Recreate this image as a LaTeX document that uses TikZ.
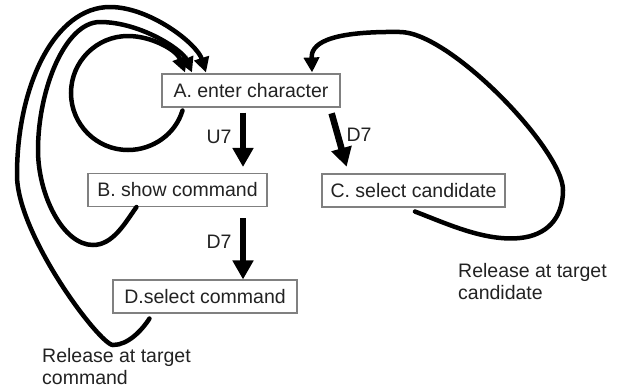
\documentclass[tikz,border=0pt]{standalone}
\usepackage{fontspec}
\setmainfont{Liberation Sans}
\usetikzlibrary{arrows.meta}
\definecolor{boxgray}{HTML}{808080}
\definecolor{textcol}{HTML}{222222}
\begin{document}
\begin{tikzpicture}[x=1pt,y=-1pt,
  box/.style={draw=boxgray, line width=1.1pt, fill=white, inner sep=0pt,
    text=textcol, font=\fontsize{19.5}{22.5}\selectfont, minimum height=33pt},
  lbl/.style={inner sep=0pt, text=textcol, font=\fontsize{19.5}{22.5}\selectfont, align=left},
  bigarrow/.style={draw=black, line width=6.5pt, -{Triangle[width=20pt,length=19pt]}},
  backline/.style={draw=black, line width=4.5pt, line cap=round, -{Triangle[width=15pt,length=15pt]}}]
\useasboundingbox (0,0) rectangle (620,389);

\node[box, minimum width=178pt] (A) at (251,90.5) {A. enter character};
\node[box, minimum width=179pt] (B) at (177.5,190) {B. show command};
\node[box, minimum width=183pt] (C) at (413.5,190.5) {C. select candidate};
\node[box, minimum width=184pt] (D) at (205,296.5) {D.select command};

% straight transitions
\draw[bigarrow, shorten <=5pt, shorten >=6pt] ([xshift=-8pt]A.south) -- ([xshift=65.5pt]B.north);
\draw[bigarrow, shorten <=6pt, shorten >=7pt] ([xshift=79pt]A.south) -- ([xshift=-65pt]C.north);
\draw[bigarrow, shorten <=11pt] ([xshift=65.5pt]B.south) -- ([xshift=38pt]D.north);

\node[lbl] (u7) at (219,137) {U7};
\node[lbl] (d7a) at (359,135) {D7};
\node[lbl] (d7b) at (219,241.5) {D7};

% self loop on A
\draw[backline] ([shift={(21,3)}]A.south west)
  .. controls (175.6,133.9) and (153,150) .. (128,150)
  .. controls (96.5,150) and (71,124.5) .. (71,93)
  .. controls (71,61.5) and (96.5,36) .. (128,36)
  .. controls (152,36) and (177,50.4) .. ([shift={(-66,-1)}]A.north);

% from B back to A
\draw[backline] ([shift={(49,0)}]B.south west)
  .. controls (125,223) and (113,245) .. (93,245)
  .. controls (63,245) and (38,195) .. (38,150)
  .. controls (38,90) and (65,22) .. (100,22)
  .. controls (140,22) and (182,49.5) .. ([shift={(-59,-1)}]A.north);

% from D back to A
\draw[backline] ([shift={(37,5)}]D.south west)
  .. controls (141.75,330.5) and (128,345) .. (113,345)
  .. controls (100,345) and (17,235) .. (17,175)
  .. controls (17,85) and (55,7) .. (110,7)
  .. controls (150,7) and (197,43.8) .. ([shift={(-45,-1)}]A.north);

% from C back to A
\draw[backline] ([shift={(1.5,4)}]C.south)
  .. controls (447.6,224) and (485,241.5) .. (520,238)
  .. controls (545,235.5) and (563,220) .. (563,190)
  .. controls (563,150) and (450,32) .. (400,32)
  .. controls (325,31) and (311,45) .. ([shift={(-28.5,-1)}]A.north east);

\node[lbl, anchor=north west] (rc) at (458,263) {Release at target\\candidate};
\node[lbl, anchor=north west] (rd) at (42,348) {Release at target\\command};
\end{tikzpicture}
\end{document}
